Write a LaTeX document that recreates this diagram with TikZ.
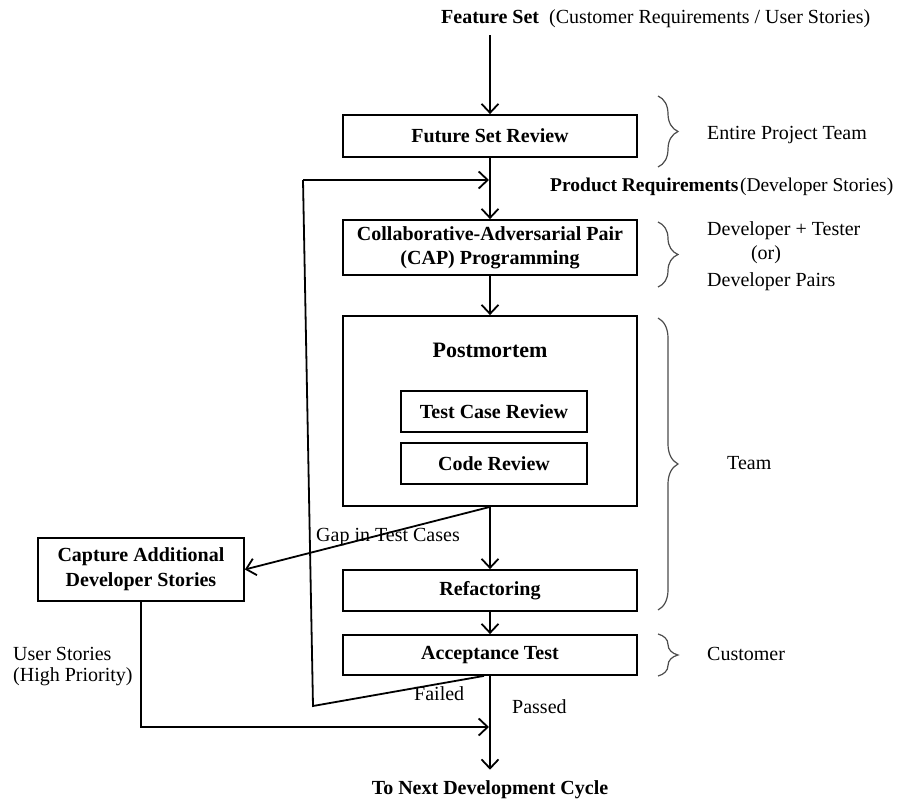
\documentclass[tikz,border=0pt]{standalone}
\usepackage{fontspec}
\setmainfont{Liberation Serif}
\usetikzlibrary{arrows.meta,decorations.pathreplacing,calc}
\begin{document}
\begin{tikzpicture}[x=1pt,y=-1pt,
  every node/.style={font=\fontsize{20}{23}\selectfont, inner sep=1pt},
  stagebox/.style={draw, line width=1.8pt, minimum width=294pt, align=center, font=\fontsize{20}{24}\selectfont\bfseries},
  subbox/.style={draw, line width=1.8pt, minimum width=186pt, minimum height=41pt, font=\fontsize{20}{23}\selectfont\bfseries},
  flow/.style={line width=1.8pt, -{Straight Barb[length=9pt,width=17pt,line width=1.8pt]}},
  plain/.style={line width=1.8pt},
  grp/.style={decorate, decoration={brace, amplitude=20pt, aspect=0.5}, line width=1.2pt, draw=black!70},
  note/.style={anchor=west, align=left}
]
\useasboundingbox (0,0) rectangle (903,805);

% header
\node[anchor=west] (fs) at (440,19) {\textbf{Feature Set}\enspace (Customer Requirements / User Stories)};

% main column of stages
\node[stagebox, minimum height=42pt] (fsr) at (490,136) {Future Set Review};
\node[anchor=west, font=\fontsize{19.5}{23}\selectfont] (pr) at (549,187) {\textbf{Product Requirements}\hspace{1.5pt}(Developer Stories)};
\node[stagebox, minimum height=55pt] (cap) at (490,247.5) {Collaborative-Adversarial Pair\\(CAP) Programming};
\node[draw, line width=1.8pt, minimum width=294pt, minimum height=190pt] (pm) at (490,411) {};
\node[font=\fontsize{22}{26}\selectfont\bfseries] (pmt) at (490,350) {Postmortem};
\node[subbox] (tcr) at (494,411.5) {Test Case Review};
\node[subbox] (cr) at (494,463.5) {Code Review};
\node[stagebox, minimum height=41pt] (ref) at (490,590.5) {Refactoring};
\node[stagebox, minimum height=40pt] (at) at (490,655) {Acceptance Test};
\node[font=\fontsize{20}{23}\selectfont\bfseries] (next) at (490,790) {To Next Development Cycle};

% side box
\node[draw, line width=1.8pt, minimum width=206pt, minimum height=63pt, align=center,
      font=\fontsize{20}{25}\selectfont\bfseries] (capt) at (141,569.5) {Capture Additional\\Developer Stories};

% main flow
\draw[flow] (fsr.north |- fs.south) ++(0,6) -- (fsr.north);
\draw[flow] (fsr.south) -- (cap.north);
\draw[flow] (cap.south) -- (pm.north);
\draw[flow] (pm.south) -- (ref.north);
\draw[flow] (ref.south) -- (at.north);
\draw[flow] (at.south) -- ([yshift=10pt]next.north);

% feedback loop after a failed acceptance test
\coordinate (lb) at (313,706);
\coordinate (lt) at (303,180);
\coordinate (jin) at (489,180);
\draw[plain] ([xshift=-6pt]at.south) -- (lb) -- (lt);
\draw[flow] (lt) -- (jin);

% gap in test cases
\draw[flow] (pm.south) -- (capt.east);
\node[note] (gap) at (315,537) {Gap in Test Cases};

% high priority user stories
\coordinate (jus) at (489,727);
\draw[flow] (capt.south) -- (capt.south |- jus) -- (jus);
\node[note] (us) at (12,654) {User Stories};
\node[note] (hp) at (12,677) {(High Priority)};

% outcome labels
\node[note] (fail) at (413,694) {Failed};
\node[note] (pass) at (511,707) {Passed};

% responsibility braces
\draw[grp] (658,96) -- (658,167);
\node[note] (t1) at (706,135) {Entire Project Team};
\draw[grp] (658,222) -- (658,287);
\node[note] (t2) at (706,231) {Developer + Tester};
\node (t2b) at (766,255) {(or)};
\node[note] (t2c) at (706,282) {Developer Pairs};
\draw[grp] (658,318) -- (658,610);
\node[note] (t3) at (726,463) {Team};
\draw[grp] (658,634) -- (658,676);
\node[note] (t4) at (706,654) {Customer};
\end{tikzpicture}
\end{document}
